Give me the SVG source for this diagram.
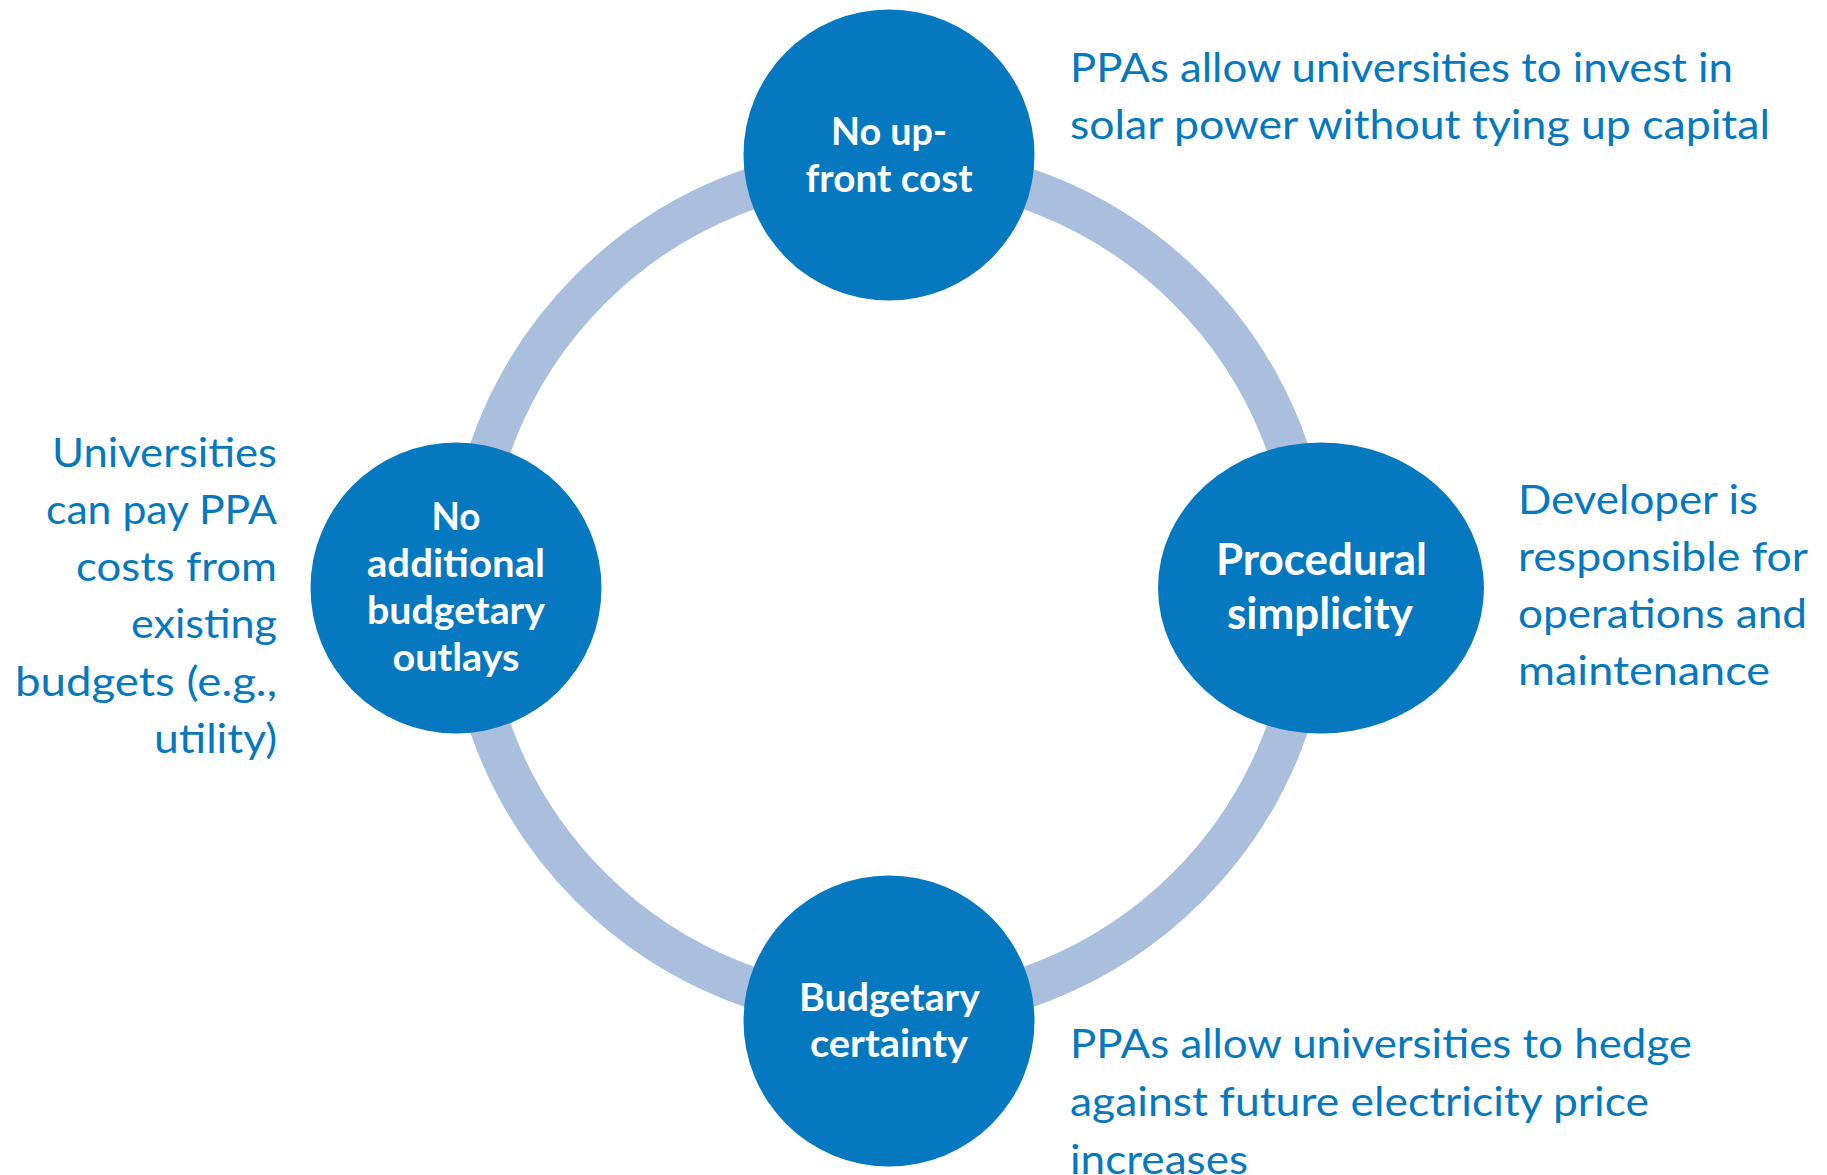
<svg xmlns="http://www.w3.org/2000/svg" width="1827" height="1175" viewBox="0 0 1827 1175">
  <style>
    .node { fill: #0578C0; }
    .ring { fill: none; stroke: #AABFDE; stroke-width: 41; }
    .lbl { font-family: Lato, "Open Sans", "Liberation Sans", sans-serif; font-weight: bold; fill: #FFFFFF; text-anchor: middle; }
    .desc { font-family: Lato, "Open Sans", "Liberation Sans", sans-serif; font-size: 41px; fill: #0578C0; }
    .end { text-anchor: end; }
  </style>
  <rect width="1827" height="1175" fill="#FFFFFF"/>
  <g id="connectors">
    <circle class="ring" cx="889" cy="588" r="422.5"/>
  </g>
  <g id="node-top">
    <circle class="node" cx="889" cy="155" r="145.5"/>
    <text class="lbl" font-size="39" x="889" y="145" textLength="116" lengthAdjust="spacingAndGlyphs">No up-</text>
    <text class="lbl" font-size="39" x="889" y="192" textLength="167" lengthAdjust="spacingAndGlyphs">front cost</text>
  </g>
  <g id="node-left">
    <circle class="node" cx="456" cy="588" r="145.5"/>
    <text class="lbl" font-size="39" x="456" y="530" textLength="49" lengthAdjust="spacingAndGlyphs">No</text>
    <text class="lbl" font-size="39" x="456" y="577" textLength="178" lengthAdjust="spacingAndGlyphs">additional</text>
    <text class="lbl" font-size="39" x="456" y="624" textLength="178" lengthAdjust="spacingAndGlyphs">budgetary</text>
    <text class="lbl" font-size="39" x="456" y="671" textLength="127" lengthAdjust="spacingAndGlyphs">outlays</text>
  </g>
  <g id="node-right">
    <ellipse class="node" cx="1321" cy="588" rx="163" ry="145.5"/>
    <text class="lbl" font-size="44" x="1321.5" y="575" textLength="211" lengthAdjust="spacingAndGlyphs">Procedural</text>
    <text class="lbl" font-size="44" x="1320" y="629" textLength="186" lengthAdjust="spacingAndGlyphs">simplicity</text>
  </g>
  <g id="node-bottom">
    <circle class="node" cx="889" cy="1021" r="145.5"/>
    <text class="lbl" font-size="39" x="889.5" y="1011" textLength="181" lengthAdjust="spacingAndGlyphs">Budgetary</text>
    <text class="lbl" font-size="39" x="889" y="1057" textLength="158" lengthAdjust="spacingAndGlyphs">certainty</text>
  </g>
  <g id="text-top">
    <text class="desc" x="1070" y="82" textLength="663" lengthAdjust="spacingAndGlyphs">PPAs allow universities to invest in</text>
    <text class="desc" x="1070" y="139" textLength="700" lengthAdjust="spacingAndGlyphs">solar power without tying up capital</text>
  </g>
  <g id="text-left">
    <text class="desc end" x="277" y="467" textLength="225" lengthAdjust="spacingAndGlyphs">Universities</text>
    <text class="desc end" x="277" y="524" textLength="231" lengthAdjust="spacingAndGlyphs">can pay PPA</text>
    <text class="desc end" x="277" y="581" textLength="201" lengthAdjust="spacingAndGlyphs">costs from</text>
    <text class="desc end" x="277" y="638" textLength="146" lengthAdjust="spacingAndGlyphs">existing</text>
    <text class="desc end" x="277" y="696" textLength="262" lengthAdjust="spacingAndGlyphs">budgets (e.g.,</text>
    <text class="desc end" x="277" y="753" textLength="123" lengthAdjust="spacingAndGlyphs">utility)</text>
  </g>
  <g id="text-right">
    <text class="desc" x="1518" y="514" textLength="240" lengthAdjust="spacingAndGlyphs">Developer is</text>
    <text class="desc" x="1518" y="571" textLength="290" lengthAdjust="spacingAndGlyphs">responsible for</text>
    <text class="desc" x="1518" y="628" textLength="289" lengthAdjust="spacingAndGlyphs">operations and</text>
    <text class="desc" x="1518" y="685" textLength="252" lengthAdjust="spacingAndGlyphs">maintenance</text>
  </g>
  <g id="text-bottom">
    <text class="desc" x="1070" y="1058" textLength="622" lengthAdjust="spacingAndGlyphs">PPAs allow universities to hedge</text>
    <text class="desc" x="1070" y="1116" textLength="579" lengthAdjust="spacingAndGlyphs">against future electricity price</text>
    <text class="desc" x="1070" y="1174" textLength="178" lengthAdjust="spacingAndGlyphs">increases</text>
  </g>
</svg>
